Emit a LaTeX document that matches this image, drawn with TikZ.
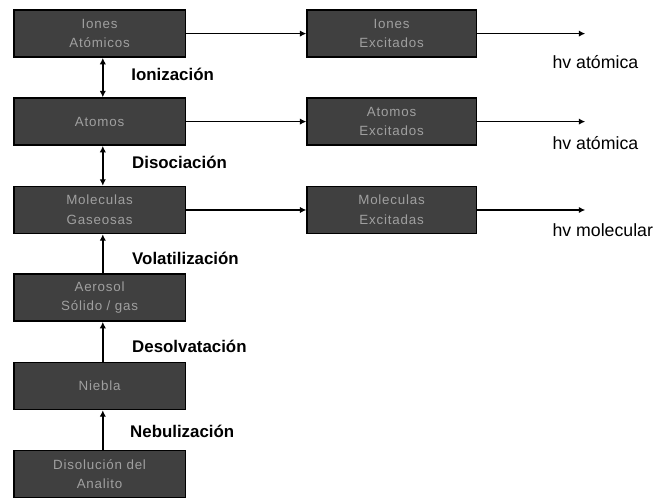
\documentclass[tikz,border=0pt]{standalone}
\usepackage{fontspec}
\setsansfont{Liberation Sans}
\newfontfamily\cajafont[LetterSpace=6]{Liberation Sans}
\usetikzlibrary{arrows.meta,positioning,calc}
\definecolor{CajaGris}{HTML}{404040}
\definecolor{TextoGris}{HTML}{A0A0A0}

\begin{document}
\begin{tikzpicture}[font=\sffamily,line width=1pt,
    caja/.style={draw=black,fill=CajaGris,text=TextoGris,align=center,
      minimum width=4.28cm,minimum height=1.18cm,inner sep=0pt,
      font=\cajafont\fontsize{9.5}{14}\selectfont},
    proceso/.style={anchor=west,font=\sffamily\bfseries\fontsize{12}{14}\selectfont},
    emision/.style={anchor=west,font=\sffamily\fontsize{12.6}{15}\selectfont},
    flecha/.style={-{Latex[length=1.6mm,width=1.6mm]}},
    doble/.style={{Latex[length=1.6mm,width=1.6mm]}-{Latex[length=1.6mm,width=1.6mm]}}]
  \useasboundingbox (0,0) rectangle (16.4,12.45);
  % --- columna izquierda : del analito a los iones ---
  \node[caja] (iones) at (2.49,11.61){Iones\\Atómicos};
  \node[caja] (atomos) at (2.49,9.41){Atomos};
  \node[caja] (molec) at (2.49,7.2){Moleculas\\Gaseosas};
  \node[caja] (aerosol) at (2.49,5.01){Aerosol\\Sólido / gas};
  \node[caja] (niebla) at (2.49,2.8){Niebla};
  \node[caja] (disol) at (2.49,0.6){Disolución del\\Analito};
  % --- columna derecha : especies excitadas ---
  \node[caja,minimum width=4.23cm] (ionesex) at (9.79,11.61){Iones\\Excitados};
  \node[caja,minimum width=4.23cm] (atomosex) at (9.79,9.41){Atomos\\Excitados};
  \node[caja,minimum width=4.23cm] (molecex) at (9.79,7.2){Moleculas\\Excitadas};
  \coordinate (fin1) at (14.63,11.61);
  \coordinate (fin2) at (14.63,9.41);
  \coordinate (fin3) at (14.63,7.2);
  % flechas verticales
  \draw[doble] ([xshift=0.08cm]atomos.north) -- ([xshift=0.08cm]iones.south);
  \draw[doble] ([xshift=0.08cm]molec.north) -- ([xshift=0.08cm]atomos.south);
  \draw[flecha] ([xshift=0.08cm]aerosol.north) -- ([xshift=0.08cm]molec.south);
  \draw[flecha] ([xshift=0.08cm]niebla.north) -- ([xshift=0.08cm]aerosol.south);
  \draw[flecha] ([xshift=0.08cm]disol.north) -- ([xshift=0.08cm]niebla.south);
  \node[proceso] (ioniz) at (3.15,10.58){Ionización};
  \node[proceso] (disoc) at (3.17,8.38){Disociación};
  \node[proceso] (volat) at (3.17,6.0){Volatilización};
  \node[proceso] (desolv) at (3.17,3.8){Desolvatación};
  \node[proceso] (nebul) at (3.12,1.66){Nebulización};
  % flechas horizontales y emision
  \draw[flecha] (iones) -- (ionesex);
  \draw[flecha] (atomos) -- (atomosex);
  \draw[flecha] (molec) -- (molecex);
  \draw[flecha] (ionesex) -- (fin1);
  \draw[flecha] (atomosex) -- (fin2);
  \draw[flecha] (molecex) -- (fin3);
  \node[emision] (hv1) at (13.68,10.9){hv atómica};
  \node[emision] (hv2) at (13.68,8.87){hv atómica};
  \node[emision] (hv3) at (13.68,6.7){hv molecular};
\end{tikzpicture}
\end{document}
